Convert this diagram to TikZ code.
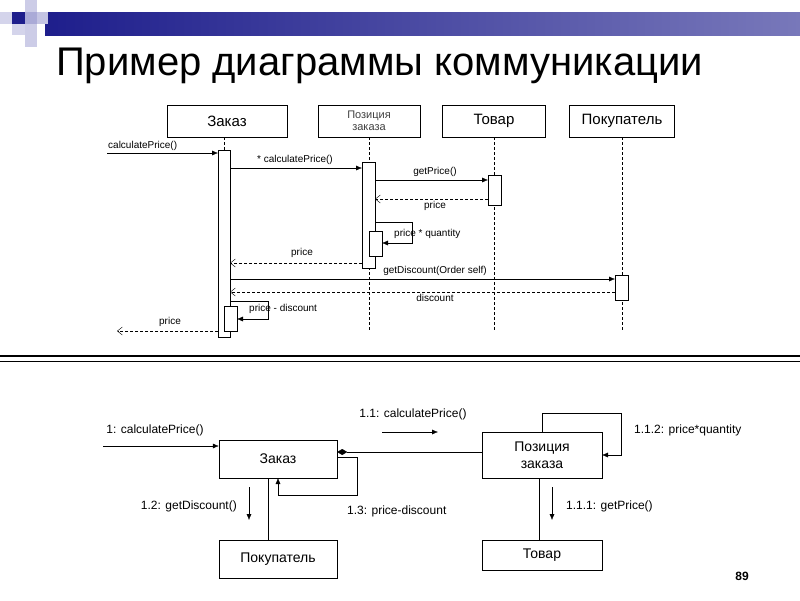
\documentclass[tikz,border=0pt]{standalone}
\usepackage{fontspec}
\setmainfont{Liberation Sans}
\usetikzlibrary{arrows.meta}
\begin{document}
\begin{tikzpicture}[x=1pt,y=-1pt,
 box/.style={draw,fill=white,inner sep=0},
 sm/.style={font=\fontsize{10}{11}\selectfont,inner sep=1pt},
 md/.style={font=\fontsize{12}{13}\selectfont,inner sep=1pt},
 bx/.style={font=\fontsize{14}{17}\selectfont},
 life/.style={dash pattern=on 3pt off 2pt},
 msg/.style={-{Latex[length=6pt,width=5pt]}},
 ret/.style={dash pattern=on 3pt off 2pt,-{Straight Barb[length=5pt,width=8pt]}}]
\useasboundingbox (0,0) rectangle (800,600);
% logo
\definecolor{navy}{RGB}{30,30,140}
\definecolor{lav}{RGB}{170,170,215}
\shade[left color=navy,right color=navy!60!white] (45,12) rectangle (800,35);
\fill[lav!60!white] (25,0) rectangle (37,12);
\fill[lav!50!white] (0,12) rectangle (12,24);
\fill[navy] (12,12) rectangle (25,24);
\fill[lav] (25,12) rectangle (37,24);
\fill[lav!70!white] (37,12) rectangle (48,24);
\fill[lav!60!white] (25,24) rectangle (37,35);
\fill[lav!50!white] (12,24) rectangle (25,35);
\fill[lav!60!white] (25,35) rectangle (37,47);
\node[anchor=base west,inner sep=0,font=\fontsize{40}{40}\selectfont] (title) at (56,75) {Пример диаграммы коммуникации};
% sequence heads
\node[box,minimum width=120,minimum height=32,font=\fontsize{15}{16}\selectfont] (h1) at (227,121) {Заказ};
\node[box,minimum width=102,minimum height=32,font=\fontsize{11}{12}\selectfont,align=center,text=black!75] (h2) at (369,121) {Позиция\\заказа};
\node[box,minimum width=103,minimum height=32,font=\fontsize{15}{16}\selectfont] (h3) at (494,121) {Товар};
\node[box,minimum width=105,minimum height=32,font=\fontsize{15}{16}\selectfont] (h4) at (622,121) {Покупатель};
\coordinate (l1) at (224,330);\coordinate (l2) at (369,330);\coordinate (l3) at (494,330);\coordinate (l4) at (622,330);
\draw[life] (224,137)--(l1); \draw[life] (h2.south)--(l2); \draw[life] (h3.south)--(l3); \draw[life] (h4.south)--(l4);
\node[box,minimum width=12,minimum height=187] (a1) at (224,243.5) {};
\node[box,minimum width=13,minimum height=106] (a2) at (368.5,215) {};
\node[box,minimum width=13,minimum height=30] (a3) at (494.5,190) {};
\node[box,minimum width=13,minimum height=25] (a4) at (621.5,287.5) {};
\node[box,minimum width=13,minimum height=25] (a5) at (375.5,243.5) {};
\node[box,minimum width=13,minimum height=25] (a6) at (230.5,318.5) {};
% messages
\coordinate (m0) at (107,153);
\draw[msg] (m0)--(218,153); \node[sm,anchor=south west] (t0) at (107,152) {calculatePrice()};
\draw[msg] (230,168)--(362,168); \node[sm,anchor=south] (t1) at (295,166) {* calculatePrice()};
\draw[msg] (375,180)--(488,180); \node[sm,anchor=south] (t2) at (435,178) {getPrice()};
\draw[ret] (488,199)--(375,199); \node[sm,anchor=north] (t3) at (435,200) {price};
\draw[msg] (375,222)--(412,222)--(412,243)--(382,243); \node[sm,anchor=west] (t4) at (393,234) {price * quantity};
\draw[ret] (362,263)--(230,263); \node[sm,anchor=south] (t5) at (302,259) {price};
\draw[msg] (230,279)--(615,279); \node[sm,anchor=south] (t6) at (435,277) {getDiscount(Order self)};
\draw[ret] (615,292)--(230,292); \node[sm,anchor=north] (t7) at (435,293) {discount};
\draw[msg] (230,301)--(268,301)--(268,319)--(237,319); \node[sm,anchor=west] (t8) at (248,309) {price - discount};
\coordinate (m9) at (117,331);
\draw[ret] (218,331)--(m9); \node[sm,anchor=south] (t9) at (170,328) {price};
% separator
\draw[line width=1.6pt] (0,356)--(800,356); \draw[line width=1.6pt] (0,361.5)--(800,361.5);
% collaboration
\node[box,minimum width=118,minimum height=38,bx] (c1) at (278,459) {Заказ};
\node[box,minimum width=120,minimum height=46,align=center,bx] (c2) at (542,455) {Позиция\\заказа};
\node[box,minimum width=118,minimum height=38,bx] (c3) at (278,559) {Покупатель};
\node[box,minimum width=120,minimum height=30,bx] (c4) at (542,555) {Товар};
\coordinate (in) at (103,446);
\draw[msg] (in)--(c1.west|-in); \node[md,anchor=south] (u0) at (155,437) {1: calculatePrice()};
\draw[-{Diamond[length=10pt,width=6pt]}] (c2.west|-0,452)--(c1.east|-0,452);
\draw[msg] (c1.east|-0,457)--(357,457)--(357,495)--(278,495)--(278,478); \node[md,anchor=west] (u1) at (346,511) {1.3: price-discount};
\draw[msg] (382,432)--(438,432); \node[md,anchor=south] (u2) at (413,421) {1.1: calculatePrice()};
\draw (268,478)--(268,540);
\draw[msg] (249,487)--(249,520); \node[md,anchor=east] (u3) at (238,506) {1.2: getDiscount()};
\draw[msg] (542,432)--(542,413)--(621,413)--(621,455)--(602,455); \node[md,anchor=west] (u4) at (633,430) {1.1.2: price*quantity};
\draw (539,478)--(539,540);
\draw[msg] (552,487)--(552,520); \node[md,anchor=west] (u5) at (565,506) {1.1.1: getPrice()};
\node[anchor=base,font=\bfseries\fontsize{12}{12}\selectfont] (pg) at (742,580) {89};
\end{tikzpicture}
\end{document}
